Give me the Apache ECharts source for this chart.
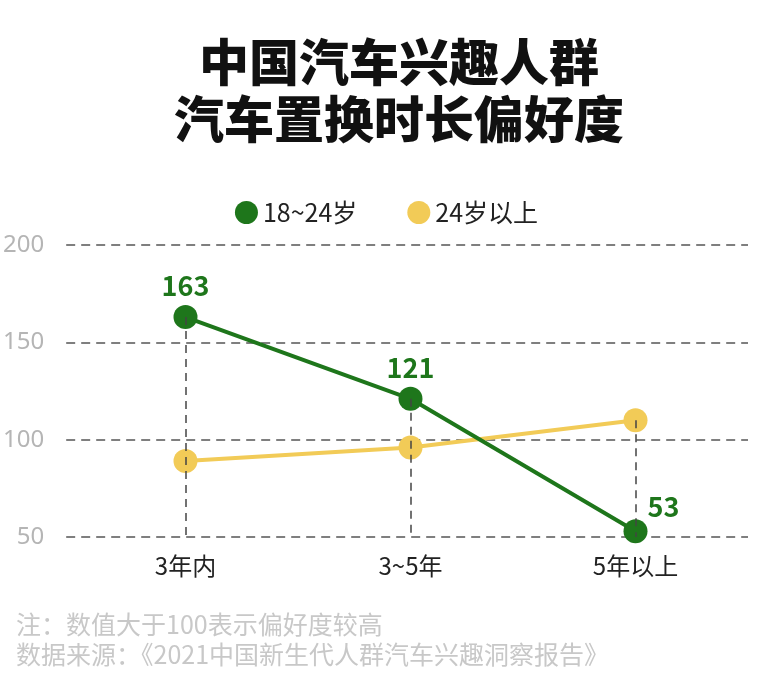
<!DOCTYPE html>
<html>
<head>
<meta charset="utf-8">
<script src="https://cdn.jsdelivr.net/npm/echarts@6/dist/echarts.min.js"></script>
<style>
html,body{margin:0;padding:0;background:#fff;}
#chart{width:773px;height:678px;}
</style>
</head>
<body>
<div id="chart"></div>
<script>
const categories = ['3年内', '3~5年', '5年以上'];
const young = [163, 121, 53];
const older = [89, 96, 110];
const seriesNames = ['18~24岁', '24岁以上'];
const yMin = 50, yMax = 200, yStep = 50;
const titleText = '中国汽车兴趣人群\n汽车置换时长偏好度';
const noteText = '注：数值大于100表示偏好度较高\n数据来源：《2021中国新生代人群汽车兴趣洞察报告》';

const GREEN = '#1e761b';
const YELLOW = '#f2cb57';
const FONT = '"Noto Sans CJK SC", "Noto Sans", sans-serif';

const chart = echarts.init(document.getElementById('chart'), null, {renderer: 'canvas'});

const dropLines = categories.map((c, i) => [
  {coord: [c, Math.max(young[i], older[i])]},
  {coord: [c, yMin]}
]);

const youngData = young.map((v, i) => i === young.length - 1
  ? {value: v, label: {position: 'right', distance: 2, offset: [-2, -24]}}
  : v);

chart.setOption({
  animation: false,
  backgroundColor: '#ffffff',
  title: [
    {
      text: titleText,
      left: 399,
      textAlign: 'center',
      top: 28,
      padding: [5, 0, 5, 0],
      textStyle: {
        fontFamily: FONT,
        fontSize: 50,
        fontWeight: 900,
        lineHeight: 57,
        color: '#111'
      }
    },
    {
      text: noteText,
      left: 11,
      top: 604,
      textStyle: {
        fontFamily: FONT,
        fontSize: 25,
        fontWeight: 'normal',
        lineHeight: 30,
        color: '#c8c8c8'
      }
    }
  ],
  legend: {
    data: seriesNames,
    top: 195,
    left: 'center',
    icon: 'circle',
    itemWidth: 23,
    itemHeight: 23,
    itemGap: 50,
    textStyle: {fontFamily: FONT, fontSize: 25, color: '#222'}
  },
  grid: [
    {left: 73, right: 25, top: 245, bottom: 141, containLabel: false},
    {left: 65, right: 25, top: 245, bottom: 141, containLabel: false}
  ],
  xAxis: [
    {
      type: 'category',
      gridIndex: 0,
      data: categories,
      boundaryGap: true,
      axisLine: {show: false},
      axisTick: {show: false},
      splitLine: {show: false},
      axisLabel: {fontFamily: FONT, fontSize: 24, color: '#222', margin: 17}
    },
    {
      type: 'value',
      gridIndex: 1,
      min: 0, max: 1,
      show: false
    }
  ],
  yAxis: [
    {
      type: 'value',
      gridIndex: 0,
      min: yMin, max: yMax, interval: yStep,
      show: false,
      splitLine: {show: false}
    },
    {
      type: 'value',
      gridIndex: 1,
      min: yMin, max: yMax, interval: yStep,
      axisLine: {show: false},
      axisTick: {show: false},
      axisLabel: {fontFamily: '"Noto Sans", sans-serif', fontSize: 24, color: '#b5b5b5', margin: 22},
      splitLine: {show: true, lineStyle: {color: '#555', width: 1.5, type: [9, 6]}}
    }
  ],
  series: [
    {
      type: 'line',
      name: 'drop',
      xAxisIndex: 0, yAxisIndex: 0,
      data: older,
      symbol: 'none',
      lineStyle: {opacity: 0},
      silent: true,
      z: 1,
      markLine: {
        silent: true,
        symbol: ['none', 'none'],
        label: {show: false},
        lineStyle: {color: '#444', width: 1.5, type: [8, 6]},
        data: dropLines
      }
    },
    {
      type: 'line',
      name: seriesNames[1],
      xAxisIndex: 0, yAxisIndex: 0,
      data: older,
      symbol: 'circle',
      symbolSize: 24,
      itemStyle: {color: YELLOW},
      lineStyle: {color: YELLOW, width: 4},
      z: 3
    },
    {
      type: 'line',
      name: seriesNames[0],
      xAxisIndex: 0, yAxisIndex: 0,
      data: youngData,
      symbol: 'circle',
      symbolSize: 24,
      itemStyle: {color: GREEN},
      lineStyle: {color: GREEN, width: 4},
      z: 4,
      label: {
        show: true,
        position: 'top',
        distance: 6,
        fontFamily: FONT,
        fontSize: 27,
        fontWeight: 'bold',
        color: GREEN
      }
    }
  ]
});
</script>
</body>
</html>
